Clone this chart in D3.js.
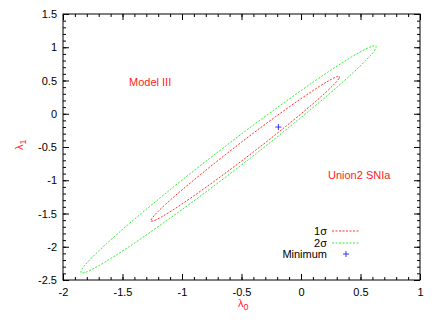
<!DOCTYPE html>
<html>
<head>
<meta charset="utf-8">
<script src="https://d3js.org/d3.v7.min.js"></script>
<style>
  body { margin: 0; background: #fff; }
  svg { display: block; font-family: "Liberation Sans", Arial, Helvetica, sans-serif; }
</style>
</head>
<body>
<svg id="chart" width="436" height="327"></svg>
<script>
// axis ticks
const xTicks = [-2, -1.5, -1, -0.5, 0, 0.5, 1];
const yTicks = [-2.5, -2, -1.5, -1, -0.5, 0, 0.5, 1, 1.5];

// contour points (lambda0, lambda1), walked round the curve
const sigma1 = [
  [0.324, 0.560], [0.318, 0.528], [0.266, 0.421], [0.119, 0.179], [-0.162, -0.239],
  [-0.430, -0.616], [-0.703, -0.982], [-1.001, -1.358], [-1.170, -1.549], [-1.242, -1.612],
  [-1.261, -1.613], [-1.255, -1.581], [-1.203, -1.473], [-1.056, -1.231], [-0.775, -0.814],
  [-0.507, -0.437], [-0.234, -0.071], [0.064, 0.305], [0.233, 0.496], [0.305, 0.559]
];
const sigma2 = [
  [0.631, 1.018], [0.623, 0.966], [0.541, 0.796], [0.312, 0.415], [-0.126, -0.241],
  [-0.546, -0.833], [-0.974, -1.407], [-1.441, -1.995], [-1.706, -2.292], [-1.819, -2.389],
  [-1.849, -2.390], [-1.841, -2.338], [-1.759, -2.168], [-1.530, -1.787], [-1.092, -1.131],
  [-0.672, -0.539], [-0.244, 0.035], [0.223, 0.623], [0.488, 0.920], [0.601, 1.017]
];
const minimum = [-0.19, -0.20];

const legendItems = ['1σ', '2σ', 'Minimum'];

const svg = d3.select('#chart');
const mLeft = 63, mRight = 420, mTop = 14, mBottom = 280;

const x = d3.scaleLinear().domain([-2, 1]).range([mLeft, mRight]);
const y = d3.scaleLinear().domain([-2.5, 1.5]).range([mBottom, mTop]);

const fmt = d => String(d);

// minor ticks (every 0.1)
function minor(axis, g) {
  g.call(axis.tickFormat('').tickSizeOuter(0));
  g.select('.domain').remove();
  g.selectAll('line').attr('stroke', '#000');
}
minor(d3.axisBottom(x).ticks(30).tickSize(-3), svg.append('g').attr('transform', `translate(0,${mBottom})`));
minor(d3.axisTop(x).ticks(30).tickSize(-3), svg.append('g').attr('transform', `translate(0,${mTop})`));
minor(d3.axisLeft(y).ticks(40).tickSize(-3), svg.append('g').attr('transform', `translate(${mLeft},0)`));
minor(d3.axisRight(y).ticks(40).tickSize(-3), svg.append('g').attr('transform', `translate(${mRight},0)`));

// major ticks
function major(axis, g, labels) {
  g.call(axis.tickSizeOuter(0).tickFormat(labels ? fmt : ''));
  g.select('.domain').remove();
  g.selectAll('line').attr('stroke', '#000');
  g.selectAll('text').attr('fill', '#000').style('font-size', '11px')
    .style('font-family', '"Liberation Sans", Arial, sans-serif');
}
major(d3.axisBottom(x).tickValues(xTicks).tickSize(-6).tickPadding(8),
  svg.append('g').attr('transform', `translate(0,${mBottom})`), true);
major(d3.axisTop(x).tickValues(xTicks).tickSize(-6),
  svg.append('g').attr('transform', `translate(0,${mTop})`), false);
major(d3.axisLeft(y).tickValues(yTicks).tickSize(-6).tickPadding(6),
  svg.append('g').attr('transform', `translate(${mLeft},0)`), true);
major(d3.axisRight(y).tickValues(yTicks).tickSize(-6),
  svg.append('g').attr('transform', `translate(${mRight},0)`), false);

// frame
svg.append('rect')
  .attr('x', mLeft).attr('y', mTop)
  .attr('width', mRight - mLeft).attr('height', mBottom - mTop)
  .attr('fill', 'none').attr('stroke', '#000').attr('stroke-width', 1);

// contours
const line = d3.line()
  .x(d => x(d[0]))
  .y(d => y(d[1]))
  .curve(d3.curveCatmullRomClosed.alpha(0.5));

svg.append('path').datum(sigma2)
  .attr('d', line)
  .attr('fill', 'none').attr('stroke', '#33ee33')
  .attr('stroke-width', 1).attr('stroke-dasharray', '2,1.5');

svg.append('path').datum(sigma1)
  .attr('d', line)
  .attr('fill', 'none').attr('stroke', '#ff3333')
  .attr('stroke-width', 1).attr('stroke-dasharray', '2,1.5');

// best-fit point
function plus(cx, cy) {
  svg.append('path')
    .attr('d', `M${cx - 3},${cy}H${cx + 3}M${cx},${cy - 3}V${cy + 3}`)
    .attr('stroke', '#3333ff').attr('stroke-width', 1);
}
plus(x(minimum[0]), y(minimum[1]));

// annotations
svg.append('text').attr('x', 129).attr('y', 86)
  .attr('fill', '#ff2222').style('font-size', '11px').text('Model III');
svg.append('text').attr('x', 328).attr('y', 179)
  .attr('fill', '#ff2222').style('font-size', '11px').text('Union2 SNIa');

// axis titles
const xl = svg.append('text').attr('x', 238).attr('y', 307)
  .attr('fill', '#ff2222').style('font-size', '11px');
xl.append('tspan').text('λ');
xl.append('tspan').attr('dy', 3).style('font-size', '9px').text('0');

const yl = svg.append('text').attr('transform', 'translate(23,150) rotate(-90)')
  .attr('fill', '#ff2222').style('font-size', '11px');
yl.append('tspan').text('λ');
yl.append('tspan').attr('dy', 3).style('font-size', '9px').text('1');

// legend
const legendY = [231, 243, 254];
const lg = svg.append('g');
legendItems.forEach((t, i) => {
  lg.append('text').attr('x', 327).attr('y', legendY[i] + 4)
    .attr('text-anchor', 'end').attr('fill', '#000')
    .style('font-size', '11px').text(t);
});
lg.append('line').attr('x1', 332).attr('x2', 360).attr('y1', legendY[0]).attr('y2', legendY[0])
  .attr('stroke', '#ff3333').attr('stroke-dasharray', '2,1.5');
lg.append('line').attr('x1', 332).attr('x2', 360).attr('y1', legendY[1]).attr('y2', legendY[1])
  .attr('stroke', '#33ee33').attr('stroke-dasharray', '2,1.5');
plus(346, legendY[2]);
</script>
</body>
</html>
